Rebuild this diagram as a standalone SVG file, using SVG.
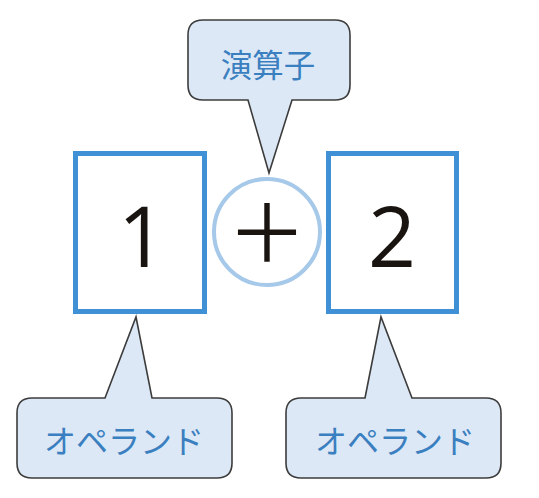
<svg xmlns="http://www.w3.org/2000/svg" width="539" height="498" viewBox="0 0 539 498">
<style>
.callout{fill:#dde8f6;stroke:#3c3c3c;stroke-width:1.6;stroke-linejoin:miter}
.ctext{font-family:"Noto Sans CJK JP","Noto Sans",sans-serif;fill:#3a7fbf;text-anchor:middle}
.box{fill:#ffffff;stroke:#3f90d4;stroke-width:5}
.num{font-family:"Open Sans","Noto Sans",sans-serif;font-size:84px;fill:#1a1410;text-anchor:middle}
.op{fill:#ffffff;stroke:#a6c9ea;stroke-width:4}
.plus{font-family:"Noto Sans CJK JP",sans-serif;font-size:80px;fill:#1a1410;text-anchor:middle}
</style>
<rect width="539" height="498" fill="#ffffff"/>
<g id="connectors">
</g>
<g id="operand1">
<rect class="box" x="75.5" y="153.5" width="129" height="158"/>
<text class="num" x="142" y="267">1</text>
</g>
<g id="operator">
<circle class="op" cx="267" cy="232" r="53"/>
<text class="plus" x="267" y="262">＋</text>
</g>
<g id="operand2">
<rect class="box" x="328.5" y="153.5" width="128" height="158"/>
<text class="num" x="392" y="267">2</text>
</g>
<g id="callout-operator">
<path class="callout" d="M203,20 H335 Q350,20 350,35 V85 Q350,100 335,100 H292 L269,173 L248,100 H203 Q188,100 188,85 V35 Q188,20 203,20 Z"/>
<text class="ctext" x="268" y="77" font-size="31.5">演算子</text>
</g>
<g id="callout-operand1">
<path class="callout" d="M105,398 L136,317 L152,398 H217 Q232,398 232,413 V463 Q232,478 217,478 H32 Q17,478 17,463 V413 Q17,398 32,398 Z"/>
<text class="ctext" x="124" y="453" font-size="32">オペランド</text>
</g>
<g id="callout-operand2">
<path class="callout" d="M365,398 L381,317 L412,398 H486 Q501,398 501,413 V463 Q501,478 486,478 H301 Q286,478 286,463 V413 Q286,398 301,398 Z"/>
<text class="ctext" x="395" y="453" font-size="32">オペランド</text>
</g>
</svg>
